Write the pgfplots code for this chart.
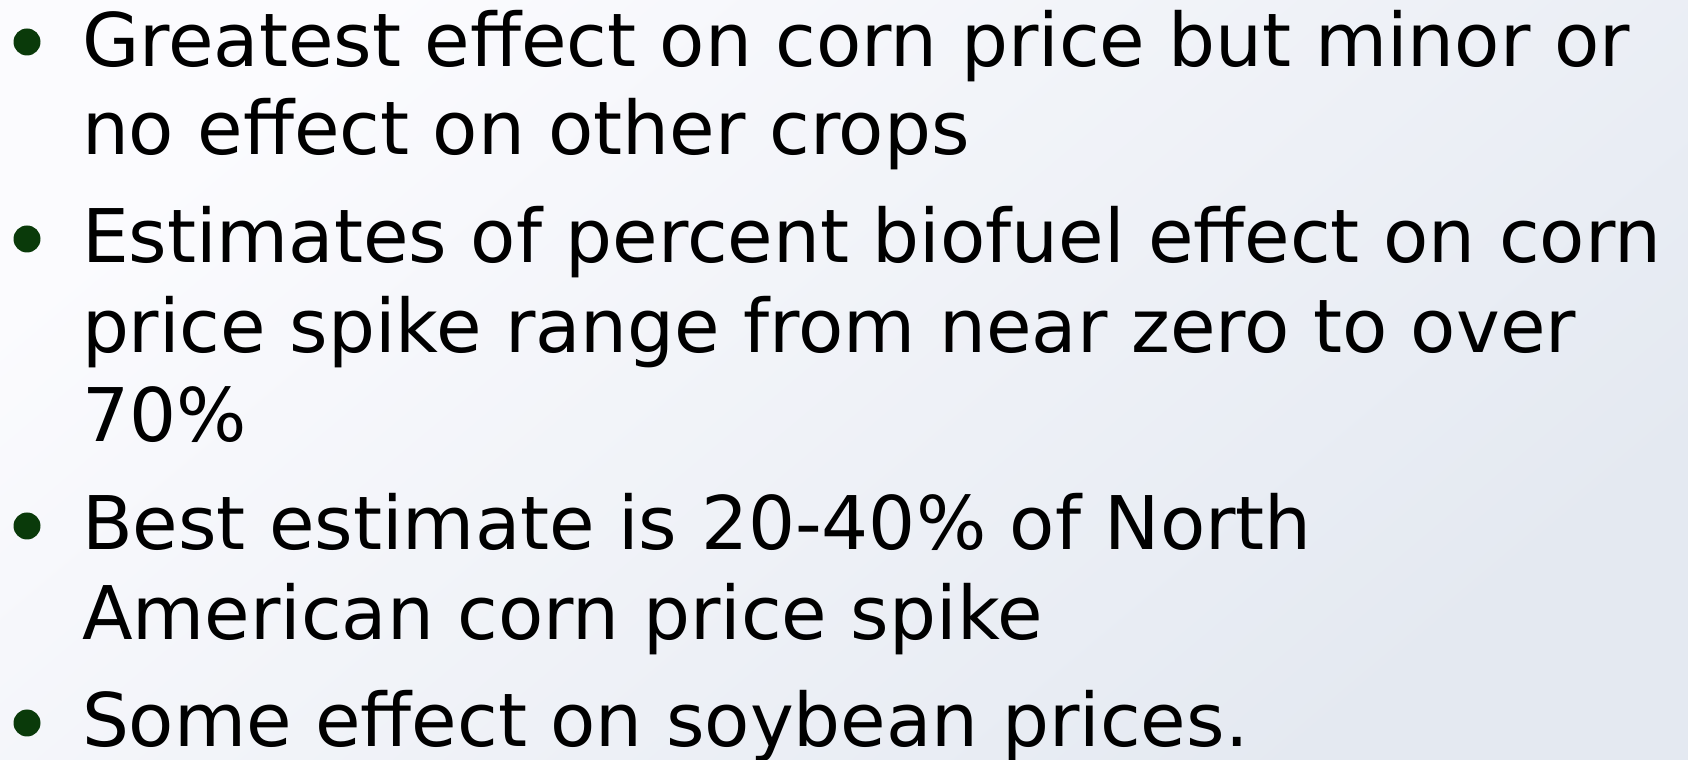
\documentclass[border=0pt]{standalone}
\usepackage{pgfplots}
\pgfplotsset{compat=1.18}
\usepackage{fontspec}
\setmainfont{DejaVu Sans}
\definecolor{bulletgreen}{HTML}{0A3A0A}
\definecolor{bgtop}{HTML}{FBFBFE}
\definecolor{bgbot}{HTML}{E4E9F1}
\tikzset{txt/.style={font=\fontsize{37}{44}\selectfont, anchor=base west, inner sep=0pt, outer sep=0pt, text=black}}
\begin{document}
\begin{tikzpicture}
\begin{axis}[
  width=844pt, height=380pt, scale only axis,
  xmin=0, xmax=1688, ymin=0, ymax=760,
  hide axis, clip=false,
]
\shade[top color=bgtop, bottom color=bgbot, shading angle=40] (axis cs:0,0) rectangle (axis cs:1688,760);
% bullets
\fill[bulletgreen] (axis cs:27,718) circle[radius=6.75pt];
\fill[bulletgreen] (axis cs:27,521) circle[radius=6.75pt];
\fill[bulletgreen] (axis cs:27,234) circle[radius=6.75pt];
\fill[bulletgreen] (axis cs:27,37) circle[radius=6.75pt];
% text lines
\node[txt] at (axis cs:82,693) {Greatest effect on corn price but minor or};
\node[txt] at (axis cs:82,605) {no effect on other crops};
\node[txt] at (axis cs:82,497) {Estimates of percent biofuel effect on corn};
\node[txt] at (axis cs:82,407) {price spike range from near zero to over};
\node[txt] at (axis cs:82,318) {70\%};
\node[txt] at (axis cs:82,210) {Best estimate is 20-40\% of North};
\node[txt] at (axis cs:82,120) {American corn price spike};
\node[txt] at (axis cs:82,13) {Some effect on soybean prices.};
\end{axis}
\pgfresetboundingbox
\path (current axis.south west) rectangle (current axis.north east);
\end{tikzpicture}
\end{document}
